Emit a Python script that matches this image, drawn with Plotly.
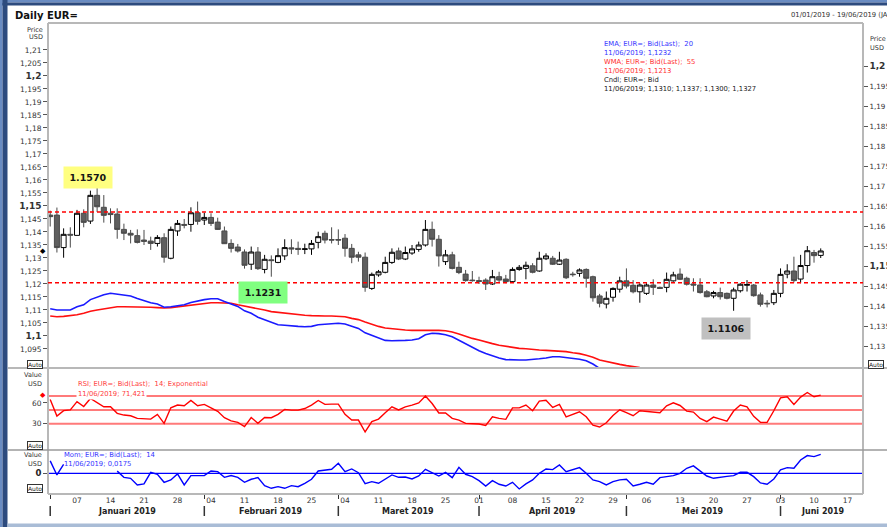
import pandas as pd
import plotly.graph_objects as go

# ---------------- data ----------------
trade_dates = pd.bdate_range("2019-01-01", "2019-06-19")   # categories (trading days)

opens = [1.1465,1.1465,1.1340,1.1391,1.1387,1.1472,1.1442,1.1541,1.1495,1.1472,
1.1469,1.1410,1.1395,1.1386,1.1369,1.1365,1.1356,1.1378,1.1299,1.1404,
1.1429,1.1429,1.1474,1.1446,1.1456,1.1438,1.1404,1.1356,1.1342,1.1323,
1.1276,1.1323,1.1256,1.1293,1.1283,1.1308,1.1339,1.1337,1.1333,1.1335,
1.1360,1.1395,1.1371,1.1371,1.1376,1.1337,1.1312,1.1303,1.1183,1.1235,
1.1245,1.1283,1.1327,1.1296,1.1319,1.1333,1.1350,1.1410,1.1372,1.1286,
1.1312,1.1264,1.1238,1.1215,1.1213,1.1215,1.1200,1.1228,1.1219,1.1209,
1.1256,1.1260,1.1270,1.1250,1.1297,1.1299,1.1276,1.1295,1.1238,1.1241,
1.1256,1.1228,1.1154,1.1123,1.1149,1.1180,1.1212,1.1195,1.1170,1.1164,
1.1196,1.1187,1.1187,1.1212,1.1238,1.1222,1.1200,1.1196,1.1170,1.1154,
1.1167,1.1164,1.1145,1.1174,1.1195,1.1196,1.1158,1.1126,1.1128,1.1164,
1.1238,1.1250,1.1219,1.1271,1.1321,1.1310]
highs = [1.1482,1.1494,1.1414,1.1418,1.1485,1.1487,1.1559,1.1571,1.1542,1.1491,
1.1491,1.1432,1.1408,1.1410,1.1408,1.1382,1.1388,1.1395,1.1421,1.1446,
1.1450,1.1495,1.1517,1.1474,1.1472,1.1455,1.1421,1.1372,1.1354,1.1333,
1.1344,1.1342,1.1312,1.1310,1.1337,1.1372,1.1372,1.1363,1.1355,1.1369,
1.1401,1.1405,1.1418,1.1410,1.1392,1.1354,1.1324,1.1321,1.1244,1.1254,
1.1305,1.1337,1.1340,1.1344,1.1350,1.1363,1.1446,1.1440,1.1388,1.1331,
1.1324,1.1286,1.1254,1.1250,1.1228,1.1222,1.1254,1.1247,1.1235,1.1264,
1.1273,1.1286,1.1280,1.1324,1.1318,1.1308,1.1324,1.1299,1.1247,1.1260,
1.1260,1.1232,1.1162,1.1171,1.1187,1.1228,1.1260,1.1215,1.1203,1.1203,
1.1218,1.1190,1.1244,1.1247,1.1260,1.1228,1.1222,1.1222,1.1177,1.1174,
1.1186,1.1167,1.1186,1.1203,1.1215,1.1200,1.1167,1.1138,1.1177,1.1260,
1.1276,1.1305,1.1312,1.1346,1.1331,1.1337]
lows = [1.1421,1.1321,1.1301,1.1340,1.1387,1.1418,1.1431,1.1477,1.1436,1.1433,
1.1374,1.1369,1.1356,1.1356,1.1350,1.1331,1.1344,1.1282,1.1295,1.1385,
1.1414,1.1401,1.1428,1.1427,1.1423,1.1408,1.1354,1.1321,1.1321,1.1259,
1.1254,1.1254,1.1241,1.1228,1.1280,1.1292,1.1315,1.1312,1.1315,1.1312,
1.1337,1.1356,1.1356,1.1350,1.1305,1.1280,1.1286,1.1170,1.1177,1.1228,
1.1241,1.1277,1.1292,1.1292,1.1312,1.1324,1.1344,1.1344,1.1267,1.1273,
1.1256,1.1238,1.1209,1.1209,1.1200,1.1177,1.1196,1.1203,1.1203,1.1206,
1.1251,1.1218,1.1241,1.1247,1.1292,1.1273,1.1273,1.1219,1.1228,1.1228,
1.1186,1.1132,1.1110,1.1106,1.1132,1.1167,1.1183,1.1164,1.1128,1.1158,
1.1158,1.1181,1.1168,1.1209,1.1215,1.1194,1.1171,1.1163,1.1149,1.1145,
1.1140,1.1141,1.1097,1.1167,1.1171,1.1151,1.1113,1.1110,1.1119,1.1149,
1.1222,1.1206,1.1203,1.1244,1.1282,1.1300]
closes = [1.1459,1.1340,1.1391,1.1388,1.1472,1.1437,1.1541,1.1497,1.1464,1.1467,
1.1410,1.1395,1.1388,1.1360,1.1364,1.1356,1.1379,1.1303,1.1410,1.1433,
1.1426,1.1474,1.1441,1.1456,1.1433,1.1410,1.1355,1.1337,1.1327,1.1272,
1.1323,1.1259,1.1295,1.1290,1.1309,1.1340,1.1335,1.1333,1.1335,1.1356,
1.1382,1.1369,1.1369,1.1369,1.1337,1.1303,1.1303,1.1187,1.1237,1.1247,
1.1283,1.1322,1.1296,1.1321,1.1335,1.1350,1.1410,1.1372,1.1308,1.1312,
1.1260,1.1244,1.1213,1.1213,1.1210,1.1200,1.1228,1.1215,1.1209,1.1256,
1.1264,1.1272,1.1245,1.1299,1.1308,1.1276,1.1292,1.1224,1.1236,1.1254,
1.1222,1.1147,1.1126,1.1145,1.1183,1.1212,1.1192,1.1170,1.1196,1.1196,
1.1187,1.1183,1.1218,1.1235,1.1218,1.1199,1.1196,1.1167,1.1151,1.1167,
1.1151,1.1145,1.1177,1.1199,1.1198,1.1155,1.1122,1.1124,1.1164,1.1237,
1.1250,1.1213,1.1271,1.1328,1.1309,1.1327]

ema20 = [1.1393,1.1390,1.1390,1.1390,1.1398,1.1403,1.1416,1.1423,1.1428,1.1432,
1.1430,1.1427,1.1425,1.1419,1.1413,1.1408,1.1405,1.1397,1.1398,1.1400,
1.1403,1.1409,1.1413,1.1416,1.1418,1.1418,1.1411,1.1404,1.1399,1.1388,
1.1382,1.1372,1.1365,1.1358,1.1353,1.1352,1.1350,1.1349,1.1348,1.1349,
1.1353,1.1354,1.1356,1.1357,1.1355,1.1350,1.1344,1.1333,1.1326,1.1319,
1.1314,1.1313,1.1313,1.1314,1.1315,1.1318,1.1328,1.1332,1.1331,1.1328,
1.1323,1.1314,1.1304,1.1296,1.1288,1.1281,1.1275,1.1270,1.1266,1.1265,
1.1265,1.1265,1.1266,1.1268,1.1270,1.1273,1.1273,1.1271,1.1268,1.1267,
1.1263,1.1255,1.1244,1.1236]
wma55 = [1.1375,1.1373,1.1374,1.1376,1.1378,1.1382,1.1387,1.1390,1.1393,1.1395,
1.1398,1.1398,1.1398,1.1398,1.1398,1.1397,1.1396,1.1395,1.1396,1.1398,
1.1400,1.1403,1.1404,1.1406,1.1408,1.1408,1.1408,1.1407,1.1403,1.1400,
1.1397,1.1394,1.1390,1.1386,1.1384,1.1382,1.1380,1.1378,1.1377,1.1376,
1.1375,1.1375,1.1375,1.1374,1.1373,1.1369,1.1366,1.1360,1.1354,1.1349,
1.1345,1.1343,1.1342,1.1340,1.1339,1.1339,1.1340,1.1340,1.1339,1.1338,
1.1335,1.1330,1.1324,1.1319,1.1315,1.1310,1.1306,1.1302,1.1299,1.1297,
1.1294,1.1293,1.1291,1.1290,1.1289,1.1288,1.1288,1.1286,1.1283,1.1281,
1.1277,1.1272,1.1265,1.1261,1.1258,1.1254,1.1251,1.1248,1.1246,1.1244,
1.1242,1.1240]
rsi14 = [65,41,49,50,62,55,66.5,60,54.5,54.5,
45,42.5,41.5,37.7,37.7,36.7,43.5,30.5,53,57,
56,63.6,56,58,53,48,38.7,34,32,25.7,
39,30.5,39,38.7,43.5,50.7,49.7,49.7,52,57,
63.6,58,58.4,58.4,43.5,35.3,35.3,18,33,36.7,
46,54.5,50,54.5,57,60,70,59.3,45.5,45.5,
37.7,35.3,30.5,30,29.5,27.6,40,37.7,36.3,53,
53,57,48.8,62.7,64,53.6,57.9,40,44,47.3,
40,28,25.2,31.4,42,50.2,45.9,41.5,48.8,47.8,
45.9,45.9,56,60.3,56.4,48.3,46.8,37.7,32.9,39.6,
36.7,33.8,48.3,57,54.5,40.6,31.9,31.9,48.8,67.5,
69,57.9,68.5,75.2,69,71.421]
mom14 = [0.0114,-0.0015,0.0083,None,None,None,None,None,None,None,
0.0020,-0.0037,-0.0046,-0.0107,-0.0098,0.0009,-0.0009,-0.0083,-0.0061,-0.0006,
-0.0107,-0.0021,-0.0021,-0.0021,0.0021,0.0015,-0.0037,-0.0021,-0.0037,-0.0083,
-0.0055,-0.0040,-0.0114,-0.0138,-0.0123,-0.0138,-0.0114,-0.0123,-0.0092,-0.0055,
0.0021,0.0028,0.0037,0.0092,0.0015,0.0040,0.0006,-0.0095,-0.0077,-0.0092,
-0.0055,-0.0015,-0.0037,-0.0034,-0.0052,-0.0025,0.0037,0.0006,-0.0025,0.0008,
-0.0040,0.0055,-0.0009,-0.0031,-0.0068,-0.0117,-0.0068,-0.0101,-0.0117,-0.0083,
-0.0144,-0.0098,-0.0061,0.0000,0.0040,0.0034,0.0077,0.0015,0.0037,0.0052,
0.0000,-0.0061,-0.0077,-0.0107,-0.0077,-0.0061,-0.0055,-0.0117,-0.0101,-0.0083,
-0.0101,-0.0040,-0.0031,-0.0021,0.0000,0.0046,0.0068,0.0021,-0.0025,-0.0046,
-0.0040,-0.0028,-0.0021,0.0009,0.0009,-0.0031,-0.0089,-0.0101,-0.0052,0.0031,
0.0052,0.0046,0.0123,0.0163,0.0154,0.0175]

resistance_level = 1.1477
support_level = 1.1205
rsi_levels = [70, 50, 30]

callout_texts = ["1.1570", "1.1231", "1.1106"]
week_labels = ["07","14","21","28","04","11","18","25","04","11","18","25",
               "01","08","15","22","29","06","13","20","27","03","10","17"]
month_labels = ["Januari 2019","Februari 2019","Maret 2019","April 2019","Mei 2019","Juni 2019"]

BIG = '<span style="font-size:9px"><b>{}</b></span>'
price_ticks = [1.095,1.10,1.105,1.11,1.115,1.12,1.125,1.13,1.135,1.14,1.145,1.15,
               1.155,1.16,1.165,1.17,1.175,1.18,1.185,1.19,1.195,1.20,1.205,1.21]
price_ticktext = ["1,095",BIG.format("1,1"),"1,105","1,11","1,115","1,12","1,125","1,13","1,135",
                  "1,14","1,145",BIG.format("1,15"),"1,155","1,16","1,165","1,17","1,175","1,18",
                  "1,185","1,19","1,195",BIG.format("1,2"),"1,205","1,21"]
ma_ticks = [1.13,1.135,1.14,1.145,1.15,1.155,1.16,1.165,1.17,1.175,1.18,1.185,1.19,1.195,1.20]
ma_ticktext = ["1,13","1,135","1,14","1,145",BIG.format("1,15"),"1,155","1,16","1,165","1,17",
               "1,175","1,18","1,185","1,19","1,195",BIG.format("1,2")]
legend_lines = [("EMA; EUR=; Bid(Last);  20", "#3535ff"),
                ("11/06/2019; 1,1232", "#3535ff"),
                ("WMA; EUR=; Bid(Last);  55", "#ff3030"),
                ("11/06/2019; 1,1213", "#ff3030"),
                ("Cndl; EUR=; Bid", "#222222"),
                ("11/06/2019; 1,1310; 1,1337; 1,1300; 1,1327", "#222222")]

# ---------------- derived positions ----------------
xi = list(range(len(trade_dates)))
mondays = [i for i, d in enumerate(trade_dates) if d.weekday() == 0]
month_first = [i for i, d in enumerate(trade_dates) if i == 0 or d.month != trade_dates[i - 1].month]
month_last = [month_first[k + 1] - 1 for k in range(len(month_first) - 1)] + [len(trade_dates) - 1]
month_mid = [(a + b) / 2 + 0.4 for a, b in zip(month_first, month_last)]

W, H = 887, 527
L, R, T, B = 48, 863, 23, 494
def xp(px): return (px - L) / (R - L)
def yp(py): return (B - py) / (B - T)

FONT = "DejaVu Sans"
dom_main = [yp(368), 1.0]
dom_rsi = [yp(450), yp(368)]
dom_mom = [0.0, yp(450)]

fig = go.Figure()
n = len(opens)
fig.add_trace(go.Candlestick(
    x=xi[:n], open=opens, high=highs, low=lows, close=closes,
    increasing=dict(line=dict(color="#000000", width=1), fillcolor="#ffffff"),
    decreasing=dict(line=dict(color="#4a4a4a", width=1), fillcolor="#5f5f5f"),
    whiskerwidth=0, hoverinfo="skip", xaxis="x", yaxis="y"))
fig.add_trace(go.Scatter(x=xi[:len(wma55)], y=wma55, mode="lines",
                         line=dict(color="#ff1010", width=1.6), xaxis="x", yaxis="y2", hoverinfo="skip"))
fig.add_trace(go.Scatter(x=xi[:len(ema20)], y=ema20, mode="lines",
                         line=dict(color="#1a1aff", width=1.6), xaxis="x", yaxis="y2", hoverinfo="skip"))
fig.add_trace(go.Scatter(x=xi[:len(rsi14)], y=rsi14, mode="lines",
                         line=dict(color="#ff0000", width=1.4), xaxis="x", yaxis="y3", hoverinfo="skip"))
fig.add_trace(go.Scatter(x=xi[:len(mom14)], y=mom14, mode="lines",
                         line=dict(color="#0000ff", width=1.4), xaxis="x", yaxis="y4", hoverinfo="skip"))

shapes = []
FR = "#b8b8b8"
# outer window frame
shapes += [
    dict(type="rect", xref="paper", yref="paper", x0=xp(0), x1=xp(887), y0=yp(0), y1=yp(2.5),
         fillcolor="#6a8cc2", line=dict(width=0), layer="above"),
    dict(type="rect", xref="paper", yref="paper", x0=xp(0), x1=xp(887), y0=yp(2.5), y1=yp(5.5),
         fillcolor="#2d4b7e", line=dict(width=0), layer="above"),
    dict(type="rect", xref="paper", yref="paper", x0=xp(0), x1=xp(2.5), y0=yp(527), y1=yp(0),
         fillcolor="#6a8cc2", line=dict(width=0), layer="above"),
    dict(type="rect", xref="paper", yref="paper", x0=xp(2.5), x1=xp(7.5), y0=yp(527), y1=yp(0),
         fillcolor="#2d4b7e", line=dict(width=0), layer="above"),
    dict(type="rect", xref="paper", yref="paper", x0=xp(7.5), x1=xp(887), y0=yp(527), y1=yp(523.5),
         fillcolor="#a9bcd6", line=dict(width=0), layer="above"),
]
# panel frames
shapes += [
    dict(type="line", xref="paper", yref="paper", x0=0, x1=1, y0=1, y1=1, line=dict(color=FR, width=2)),
    dict(type="line", xref="paper", yref="paper", x0=0, x1=0, y0=0, y1=1, line=dict(color=FR, width=2)),
    dict(type="line", xref="paper", yref="paper", x0=1, x1=1, y0=0, y1=1, line=dict(color=FR, width=2)),
    dict(type="line", xref="paper", yref="paper", x0=0, x1=1, y0=0, y1=0, line=dict(color=FR, width=2)),
    dict(type="line", xref="paper", yref="paper", x0=xp(8), x1=xp(887), y0=yp(368), y1=yp(368),
         line=dict(color=FR, width=2)),
    dict(type="line", xref="paper", yref="paper", x0=xp(8), x1=xp(887), y0=yp(450), y1=yp(450),
         line=dict(color="#9a9a9a", width=1.5)),
]
# support / resistance
for lvl in (resistance_level, support_level):
    shapes.append(dict(type="line", xref="paper", yref="y", x0=0, x1=1, y0=lvl, y1=lvl,
                       line=dict(color="#ff0000", width=1.5, dash="4px,3px")))
# RSI levels
for lvl in rsi_levels:
    shapes.append(dict(type="line", xref="paper", yref="y3", x0=0, x1=1, y0=lvl, y1=lvl,
                       line=dict(color="#ff7a7a", width=2), layer="below"))
# Mom zero line
shapes.append(dict(type="line", xref="paper", yref="y4", x0=0, x1=1, y0=0, y1=0,
                   line=dict(color="#0000ff", width=1.3), layer="below"))
# month separators
for m in month_first:
    shapes.append(dict(type="line", xref="x", yref="paper", x0=m, x1=m, y0=yp(506), y1=yp(516),
                       line=dict(color="#333333", width=1.5)))

ann = []
def text(px, py, s, size=7, color="#333333", xanchor="left", **kw):
    d = dict(xref="paper", yref="paper", x=xp(px), y=yp(py), text=s, showarrow=False,
             xanchor=xanchor, yanchor="middle", font=dict(family=FONT, size=size, color=color))
    d.update(kw)
    ann.append(d)

text(13, 15, "<b>Daily EUR=</b>", size=10, color="#111111")
text(789, 15, "01/01/2019 - 19/06/2019 (JA", size=6.8, color="#333333")
for k, (s, c) in enumerate(legend_lines):
    text(602, 43.5 + k * 9.1, s, size=6.8, color=c)
text(45, 29.5, "Price", size=6.5, xanchor="right")
text(45, 37, "USD", size=6.5, xanchor="right")
text(867.5, 38.5, "Price", size=6.5)
text(867.5, 48.5, "USD", size=6.5)
text(44, 374.5, "Value", size=6.5, xanchor="right")
text(44, 383.5, "USD", size=6.5, xanchor="right")
text(44, 455, "Value", size=6.5, xanchor="right")
text(44, 464, "USD", size=6.5, xanchor="right")
text(76, 383.5, "RSI; EUR=; Bid(Last);  14; Exponential", size=6.8, color="#ff4040")
text(76, 394.5, "11/06/2019; 71,421", size=6.8, color="#ff4040", bgcolor="#ffffff", borderpad=1)
text(62, 455, "Mom; EUR=; Bid(Last);  14", size=6.8, color="#3535ff")
text(62, 464, "11/06/2019; 0,0175", size=6.8, color="#3535ff")
for (cx, cy) in [(35, 364), (35, 445.5), (35, 488.5)]:
    text(cx, cy, "Auto", size=6, color="#222222", xanchor="center", bgcolor="#ffffff",
         bordercolor="#333333", borderwidth=1, borderpad=0)
text(868, 364.5, "Auto", size=6, color="#222222", bgcolor="#ffffff",
     bordercolor="#333333", borderwidth=1, borderpad=0)
# callout boxes
for s, (cx, cy, bg) in zip(callout_texts, [(87.5, 177.5, "#ffff80"), (263, 292.5, "#80ff80"),
                                          (725.5, 328, "#c0c0c0")]):
    text(cx, cy, "<b>" + s + "</b>", size=9.5, color="#151515", xanchor="center",
         bgcolor=bg, width=48, height=21, borderpad=0)
# last-value markers
ann.append(dict(xref="paper", yref="y", x=xp(42.5), y=closes[-1], text="◆", showarrow=False,
                font=dict(family=FONT, size=7, color="#000000"), xanchor="center", yanchor="middle"))
ann.append(dict(xref="paper", yref="y3", x=xp(43), y=rsi14[-1], text="◆", showarrow=False,
                font=dict(family=FONT, size=7, color="#ff0000"), xanchor="center", yanchor="middle"))
# month labels
for s, mpos in zip(month_labels, month_mid):
    ann.append(dict(xref="x", yref="paper", x=mpos, y=yp(511.5), text="<b>" + s + "</b>",
                    showarrow=False, xanchor="center", yanchor="middle",
                    font=dict(family=FONT, size=8, color="#222222")))

tickfont = dict(family=FONT, size=7.5, color="#333333")
fig.update_layout(
    template="none",
    width=W, height=H, margin=dict(l=L, r=W - R, t=T, b=H - B, pad=0, autoexpand=False),
    paper_bgcolor="#ffffff", plot_bgcolor="#ffffff", showlegend=False, hovermode=False,
    boxgap=0.25, boxgroupgap=0,
    xaxis=dict(range=[-0.33, 121.31], anchor="y4", showgrid=False, zeroline=False, showline=False,
               automargin=False,
               tickmode="array", tickvals=mondays, ticktext=week_labels, ticks="", ticklen=0,
               tickfont=tickfont, rangeslider=dict(visible=False),
               minor=dict(tickmode="array", tickvals=month_first, ticks="outside", ticklen=4,
                          tickcolor="#333333", tickwidth=1, showgrid=False)),
    yaxis=dict(domain=dom_main, range=[1.08769, 1.22038], anchor="x", showgrid=False, zeroline=False,
               automargin=False, showline=False,
               tickmode="array", tickvals=price_ticks, ticktext=price_ticktext, ticks="outside",
               ticklen=4, tickcolor="#555555", tickfont=tickfont),
    yaxis2=dict(overlaying="y", side="right", range=[1.1245, 1.21075], anchor="x", showgrid=False,
                automargin=False, showline=False,
                zeroline=False, tickmode="array", tickvals=ma_ticks, ticktext=ma_ticktext,
                ticks="outside", ticklen=4, tickcolor="#555555",
                tickfont=dict(family=FONT, size=7.2, color="#333333")),
    yaxis3=dict(domain=dom_rsi, range=[-8.1, 110.7], anchor="x", showgrid=False, zeroline=False,
                automargin=False, showline=False,
                tickmode="array", tickvals=[30, 60], ticktext=["30", "60"], ticks="outside",
                ticklen=4, tickcolor="#555555", tickfont=tickfont),
    yaxis4=dict(domain=dom_mom, range=[-0.01906, 0.02145], anchor="x", showgrid=False, zeroline=False,
                automargin=False, showline=False,
                tickmode="array", tickvals=[0], ticktext=["<b>0</b>"], ticks="outside",
                ticklen=4, tickcolor="#555555", tickfont=dict(family=FONT, size=8.5, color="#222222")),
    shapes=shapes, annotations=ann,
)
fig.write_html("out.html", config={"displayModeBar": False, "staticPlot": True},
               post_script="document.body.style.margin='0';document.body.style.overflow='hidden';")
